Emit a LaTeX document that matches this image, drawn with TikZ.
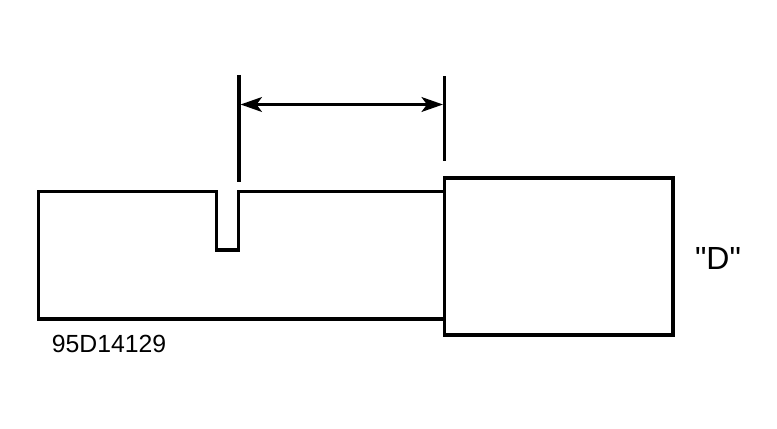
\documentclass[tikz,border=0pt]{standalone}
\usepackage{fontspec}
\newfontfamily\labelfont{Liberation Sans}
\usetikzlibrary{arrows.meta}
\tikzset{
	outline/.style = {line width=2.5pt, line cap=rect, line join=miter},
	dimtip/.tip    = {Stealth[length=16pt,width=11pt,inset=4pt]},
	dimline/.style = {line width=2.6pt, dimtip-dimtip}
}
\begin{document}
\begin{tikzpicture}[x=0.75pt,y=-0.75pt]
	\useasboundingbox (0,0) rectangle (777,428);
	\coordinate (EL1) at (239,  75);
	\coordinate (EL2) at (239, 182);
	\coordinate (ER1) at (444.3,  76);
	\coordinate (ER2) at (444.3, 161);
	\coordinate (DL)  at (240.5, 104.5);
	\coordinate (DR)  at (443, 104.5);
	\draw[outline] (444,191.5) -- (238.5,191.5) -- (238.5,250) -- (216.5,250) -- (216.5,191.5) -- (38.5,191.5) -- (38.5,319) -- (444,319);
	\draw[outline] (444.3,178) rectangle (673,335);
	\draw[line width=2.7pt] (EL1) -- (EL2);
	\draw[line width=2.1pt] (ER1) -- (ER2);
	\draw[dimline] (DL) -- (DR);
	\node (partno) at (109,344) [inner sep=0pt, font=\labelfont\fontsize{18.6}{18.6}\selectfont] {95D14129};
	\node (viewD)  at (718,258.5) [inner sep=0pt, font=\labelfont\fontsize{24}{24}\selectfont] {"D"};
\end{tikzpicture}
\end{document}
